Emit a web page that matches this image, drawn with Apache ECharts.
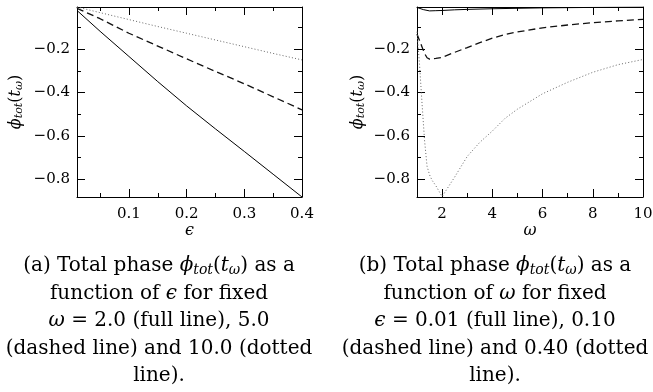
<!DOCTYPE html>
<html>
<head>
<meta charset="utf-8">
<script src="https://cdn.jsdelivr.net/npm/echarts@6/dist/echarts.min.js"></script>
<style>
html,body{margin:0;padding:0;background:#fff;}
#chart{width:653px;height:392px;}
</style>
</head>
<body>
<div id="chart"></div>
<script>
// ---- Panel (a): phase vs epsilon ----
const eps = [0.01, 0.05, 0.1, 0.15, 0.2, 0.25, 0.3, 0.35, 0.4];
const phiOmega2  = [-0.022, -0.118, -0.234, -0.350, -0.462, -0.568, -0.672, -0.777, -0.882];
const phiOmega5  = [-0.012, -0.060, -0.127, -0.186, -0.245, -0.303, -0.360, -0.420, -0.480];
const phiOmega10 = [-0.006, -0.032, -0.064, -0.096, -0.127, -0.158, -0.189, -0.220, -0.250];

// ---- Panel (b): phase vs omega ----
const omegaSolid = [1, 1.25, 1.5, 1.75, 2, 2.5, 3, 4, 5, 6, 7, 8, 9, 10];
const phiEps001  = [-0.008, -0.018, -0.024, -0.023, -0.022, -0.019, -0.017, -0.014, -0.012, -0.010, -0.009, -0.008, -0.007, -0.006];
const omegaDashed = [1, 1.1, 1.2, 1.3, 1.4, 1.5, 1.75, 2, 2.5, 3, 3.5, 4, 4.5, 5, 6, 7, 8, 9, 10];
const phiEps010   = [-0.131, -0.160, -0.190, -0.220, -0.240, -0.246, -0.243, -0.238, -0.215, -0.193, -0.170, -0.150, -0.133, -0.121, -0.102, -0.089, -0.078, -0.070, -0.063];
const omegaDotted = [1, 1.1, 1.2, 1.3, 1.4, 1.5, 1.6, 1.75, 2, 2.25, 2.5, 3, 3.5, 4, 4.5, 5, 6, 7, 8, 9, 10];
const phiEps040   = [-0.120, -0.270, -0.450, -0.620, -0.740, -0.780, -0.805, -0.830, -0.880, -0.835, -0.790, -0.695, -0.630, -0.578, -0.520, -0.477, -0.406, -0.353, -0.307, -0.272, -0.248];

// ---- ticks ----
const epsTicks = [0.1, 0.2, 0.3, 0.4];
const epsMinorTicks = [0.05, 0.15, 0.25, 0.35];
const omegaTicks = [2, 4, 6, 8, 10];
const omegaMinorTicks = [3, 5, 7, 9];
const phiTicks = [-0.8, -0.6, -0.4, -0.2];
const phiMinorTicks = [-0.7, -0.5, -0.3, -0.1];

// axis ranges
const epsRange = [0.01, 0.4];
const omegaRange = [1, 10];
const phiRange = [-0.882, -0.006];

const SERIF = 'DejaVu Serif';
const fmtPhi = v => (v < 0 ? '\u2212' : '') + Math.abs(v).toFixed(1);
const fmtEps = v => v.toFixed(1);
const fmtOm = v => String(Math.round(v));

function makeAxes(gridIndex, range, major, minor, positions, fmt, extra, isX) {
  const out = [];
  positions.forEach((pos, k) => {
    const primary = k === 0;
    out.push(Object.assign({
      type: 'value', gridIndex, position: pos, min: range[0], max: range[1],
      splitLine: {show: false},
      axisLine: {show: true, onZero: false, lineStyle: {color: '#000', width: 1}},
      axisTick: {show: true, inside: true, length: 8, customValues: major, lineStyle: {color: '#000', width: 1}},
      axisLabel: {show: primary, customValues: major, formatter: fmt, margin: isX ? 10 : 7,
        fontFamily: SERIF, fontSize: 15, color: '#000'}
    }, primary ? extra : {}));
    out.push({
      type: 'value', gridIndex, position: pos, min: range[0], max: range[1],
      splitLine: {show: false},
      axisLine: {show: false, onZero: false},
      axisTick: {show: true, inside: true, length: 4, customValues: minor, lineStyle: {color: '#000', width: 1}},
      axisLabel: {show: false}
    });
  });
  return out;
}

const yName = '{i|\u03D5}{s|tot}{n|(}{i|t}{s|\u03C9}{n|)}';
const yNameStyle = {
  rich: {
    i: {fontFamily: SERIF, fontStyle: 'italic', fontSize: 16, color: '#000'},
    n: {fontFamily: SERIF, fontSize: 16, color: '#000'},
    s: {fontFamily: SERIF, fontStyle: 'italic', fontSize: 11, color: '#000', padding: [7, 0, 0, 0]}
  }
};
const xNameStyle = {fontFamily: SERIF, fontStyle: 'italic', fontSize: 16, color: '#000'};

const xAxes = [].concat(
  makeAxes(0, epsRange, epsTicks, epsMinorTicks, ['bottom', 'top'], fmtEps,
    {name: '\u03F5', nameLocation: 'middle', nameGap: 25, nameTextStyle: xNameStyle}, true),
  makeAxes(1, omegaRange, omegaTicks, omegaMinorTicks, ['bottom', 'top'], fmtOm,
    {name: '\u03C9', nameLocation: 'middle', nameGap: 25, nameTextStyle: xNameStyle}, true)
);
const yAxes = [].concat(
  makeAxes(0, phiRange, phiTicks, phiMinorTicks, ['left', 'right'], fmtPhi,
    {name: yName, nameLocation: 'middle', nameGap: 52, nameTextStyle: yNameStyle}, false),
  makeAxes(1, phiRange, phiTicks, phiMinorTicks, ['left', 'right'], fmtPhi,
    {name: yName, nameLocation: 'middle', nameGap: 50, nameTextStyle: yNameStyle}, false)
);

const solidStyle = {color: '#000', width: 1, type: 'solid'};
const dashedStyle = {color: '#111', width: 1.3, type: [7, 4]};
const dottedStyle = {color: '#666', width: 1, type: [1, 2.2]};

function line(xs, ys, xi, yi, style) {
  return {
    type: 'line', xAxisIndex: xi, yAxisIndex: yi, showSymbol: false, symbol: 'none',
    silent: true, animation: false, lineStyle: style,
    data: xs.map((x, i) => [x, ys[i]])
  };
}

// caption lines
const capRich = {
  i: {fontFamily: SERIF, fontStyle: 'italic', fontSize: 20, color: '#000', lineHeight: 24},
  s: {fontFamily: SERIF, fontStyle: 'italic', fontSize: 14, color: '#000', lineHeight: 24, padding: [9, 0, 0, 0]}
};
const phiTot = '{i|\u03D5}{s|tot}({i|t}{s|\u03C9})';
const captionA = [
  '(a) Total phase ' + phiTot + ' as a',
  'function of {i|\u03F5} for fixed',
  '{i|\u03C9} = 2.0 (full line), 5.0',
  '(dashed line) and 10.0 (dotted',
  'line).'
];
const captionB = [
  '(b) Total phase ' + phiTot + ' as a',
  'function of {i|\u03C9} for fixed',
  '{i|\u03F5} = 0.01 (full line), 0.10',
  '(dashed line) and 0.40 (dotted',
  'line).'
];
const capTops = [254, 282, 309, 337, 364];
const titles = [];
captionA.forEach((t, k) => titles.push({
  text: t, left: 159, top: capTops[k], textAlign: 'center', textVerticalAlign: 'top', padding: 0,
  textStyle: {fontFamily: SERIF, fontWeight: 'normal', fontSize: 20, color: '#000', lineHeight: 24, rich: capRich}
}));
captionB.forEach((t, k) => titles.push({
  text: t, left: 495, top: capTops[k], textAlign: 'center', textVerticalAlign: 'top', padding: 0,
  textStyle: {fontFamily: SERIF, fontWeight: 'normal', fontSize: 20, color: '#000', lineHeight: 24, rich: capRich}
}));

const chart = echarts.init(document.getElementById('chart'), null, {renderer: 'canvas'});
chart.setOption({
  animation: false,
  backgroundColor: '#fff',
  title: titles,
  grid: [
    {left: 77, top: 7, width: 225, height: 190, containLabel: false, outerBoundsMode: 'none'},
    {left: 417, top: 7, width: 226, height: 190, containLabel: false, outerBoundsMode: 'none'}
  ],
  xAxis: xAxes,
  yAxis: yAxes,
  series: [
    line(eps, phiOmega2, 0, 0, solidStyle),
    line(eps, phiOmega5, 0, 0, dashedStyle),
    line(eps, phiOmega10, 0, 0, dottedStyle),
    line(omegaSolid, phiEps001, 4, 4, solidStyle),
    line(omegaDashed, phiEps010, 4, 4, dashedStyle),
    line(omegaDotted, phiEps040, 4, 4, dottedStyle)
  ]
});
</script>
</body>
</html>
